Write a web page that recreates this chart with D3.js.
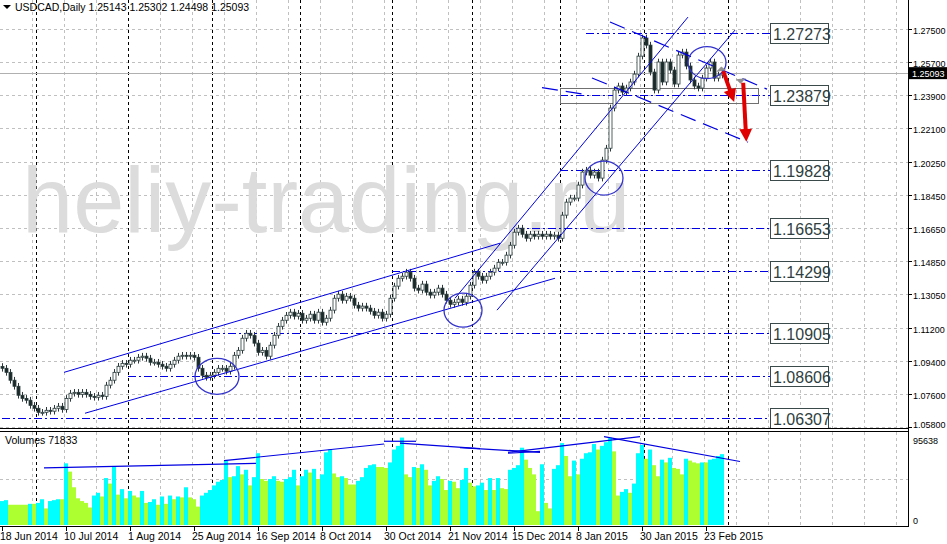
<!DOCTYPE html>
<html><head><meta charset="utf-8">
<script src="https://cdn.jsdelivr.net/npm/d3@7"></script>
<style>body{margin:0;background:#fff}svg{display:block}text{font-family:"Liberation Sans",Arial,sans-serif}</style>
</head><body><svg id="c" width="947" height="544"></svg>
<script>
const closes=[1.0900,1.0878,1.0835,1.0802,1.0753,1.0736,1.0726,1.0698,1.0682,1.0660,1.0660,1.0671,1.0666,1.0682,1.0693,1.0676,1.0736,1.0764,1.0769,1.0758,
1.0769,1.0758,1.0747,1.0742,1.0753,1.0747,1.0808,1.0835,1.0878,1.0911,1.0927,1.0922,1.0944,1.0944,1.0960,1.0966,1.0955,1.0933,1.0933,1.0922,
1.0911,1.0900,1.0922,1.0944,1.0966,1.0971,1.0966,1.0971,1.0960,1.0900,1.0862,1.0851,1.0862,1.0878,1.0900,1.0900,1.0884,1.0911,1.0971,1.0998,
1.1064,1.1091,1.1080,1.1037,1.0987,1.0998,1.0966,1.1026,1.1080,1.1129,1.1162,1.1189,1.1206,1.1184,1.1200,1.1162,1.1173,1.1195,1.1162,1.1206,
1.1151,1.1173,1.1217,1.1282,1.1304,1.1271,1.1293,1.1282,1.1244,1.1228,1.1239,1.1228,1.1211,1.1189,1.1206,1.1173,1.1195,1.1282,1.1348,1.1391,
1.1402,1.1424,1.1391,1.1337,1.1326,1.1359,1.1315,1.1299,1.1315,1.1337,1.1304,1.1271,1.1249,1.1260,1.1277,1.1260,1.1293,1.1353,1.1424,1.1402,
1.1380,1.1402,1.1424,1.1446,1.1478,1.1478,1.1517,1.1571,1.1642,1.1664,1.1631,1.1609,1.1631,1.1620,1.1631,1.1620,1.1631,1.1620,1.1626,1.1609,
1.1735,1.1806,1.1828,1.1828,1.1899,1.1970,1.1980,1.1953,1.1970,1.1937,1.2035,1.2100,1.2319,1.2417,1.2439,1.2406,1.2428,1.2461,1.2504,1.2602,
1.2701,1.2662,1.2515,1.2417,1.2570,1.2461,1.2570,1.2526,1.2450,1.2608,1.2624,1.2548,1.2472,1.2439,1.2428,1.2482,1.2537,1.2570,1.2482,1.2499,1.25093];
const volumes=[26,27,22,22,22,22,22,23,23,24,28,18,26,27,28,28,67,58,41,29,26,24,19,32,35,31,51,45,63,33,
39,29,37,32,30,37,24,25,28,22,31,23,32,28,31,30,41,30,28,20,32,35,38,43,47,49,70,52,53,64,
55,60,43,52,78,50,48,50,53,48,47,50,52,60,43,53,60,57,61,50,55,79,82,56,52,53,51,44,44,48,
52,62,65,66,63,63,62,68,82,86,95,55,52,63,62,66,60,43,48,53,50,38,48,47,40,49,62,46,42,43,
46,38,51,38,51,40,39,60,62,65,84,71,62,55,15,66,24,18,61,65,89,75,53,70,55,72,78,79,88,82,
86,90,95,80,32,36,39,35,45,78,87,72,82,65,53,71,68,73,62,61,55,72,70,68,67,68,68,71,72,75,77].map(v=>v*1000);
const dateLabels=["18 Jun 2014","10 Jul 2014","1 Aug 2014","25 Aug 2014","16 Sep 2014","8 Oct 2014","30 Oct 2014","21 Nov 2014","15 Dec 2014","8 Jan 2015","30 Jan 2015","23 Feb 2015"];
const dateIdx=[0,16,32,48,64,80,96,112,128,144,160,176];
const monthIdx=[8.5,31.5,52.5,74.5,97.5,117.5,139.5,160.5,181.5];
const priceTicks=[1.27500,1.25700,1.23900,1.22100,1.20250,1.18450,1.16650,1.14850,1.13050,1.11200,1.09400,1.07600,1.05800];
const levels=[[1.27273,146],[1.23879,139.5],[1.19828,139.5],[1.16653,128.5],[1.14299,97.5],[1.10905,52.5],[1.08606,31.5],[1.06307,0]];
const trendLines=[[15.5,1.0878,124.5,1.1582],[20.75,1.0655,138.25,1.1391],[113.25,1.1282,171.5,1.2815],[123.75,1.1217,183.25,1.2744]];
const dashLines=[[152,1.2788,191.25,1.2422],[147.5,1.2483,186.5,1.2133],[135,1.2430,146,1.2392]];
const ellipses=[[53.75,1.0856,22,18],[115.25,1.1217,19,17],[150.5,1.1937,19,17],[176.25,1.2567,19,16]];
const volLines=[[10.5,62000,63.5,67000],[55.5,70000,95.5,88000],[95.5,91000,103.5,91000],[99.5,89000,119.5,83000],[114.5,84000,134.5,79000],[126.5,78000,134.5,80000],[126.5,79000,159.5,96000],[150.5,96000,184.5,69000]];

const svg=d3.select("#c");
const x=d3.scaleLinear().domain([-0.5,226.5]).range([0,908]);
const y=d3.scaleLinear().domain([1.058,1.275]).range([427,29]);
const yv=d3.scaleLinear().domain([0,95638]).range([525,437]);
const g=svg.append("g");
for(let k=0;k<29;k++){const px=Math.round(x(7.5+8*k))+.5;if(px>906)break;
 g.append("line").attr("x1",px).attr("x2",px).attr("y1",0).attr("y2",428).attr("stroke","#c0c0c0").attr("stroke-dasharray","3,3");
 g.append("line").attr("x1",px).attr("x2",px).attr("y1",432).attr("y2",526).attr("stroke","#c0c0c0").attr("stroke-dasharray","3,3");}
priceTicks.forEach(t=>g.append("line").attr("x1",0).attr("x2",908).attr("y1",Math.round(y(t))+.5).attr("y2",Math.round(y(t))+.5).attr("stroke","#c0c0c0").attr("stroke-dasharray","3,3"));
g.append("line").attr("x1",0).attr("x2",908).attr("y1",479.5).attr("y2",479.5).attr("stroke","#c0c0c0").attr("stroke-dasharray","3,3");
monthIdx.forEach(m=>{const px=Math.round(x(m))+.5;
 g.append("line").attr("x1",px).attr("x2",px).attr("y1",0).attr("y2",428).attr("stroke","#000").attr("stroke-dasharray","3,3");
 g.append("line").attr("x1",px).attr("x2",px).attr("y1",432).attr("y2",526).attr("stroke","#000").attr("stroke-dasharray","3,3");});
svg.append("text").attr("x",22).attr("y",232).attr("font-size",92).attr("fill","#dcdcdc").text("heliy-trading.ru");
svg.append("line").attr("x1",0).attr("x2",908).attr("y1",Math.round(y(1.25093))+.5).attr("y2",Math.round(y(1.25093))+.5).attr("stroke","#b0b0b0");
levels.forEach(([p,s])=>{const yy=Math.round(y(p))+.5;
 svg.append("line").attr("x1",x(s)).attr("x2",770).attr("y1",yy).attr("y2",yy).attr("stroke","#0000e0").attr("stroke-width",1.2).attr("stroke-dasharray","8,3,2,3");
 svg.append("rect").attr("x",770.5).attr("y",yy-10).attr("width",58).attr("height",20).attr("fill","#fff").attr("stroke","#3a4a4a");
 svg.append("text").attr("x",773).attr("y",yy+6.5).attr("font-size",16).attr("fill","#2f3f3f").text(p.toFixed(5));});
svg.append("rect").attr("x",560.5).attr("y",Math.round(y(1.2431))+.5).attr("width",198).attr("height",15).attr("fill","none").attr("stroke","#707070");
const cg=svg.append("g");
closes.forEach((c,i)=>{const o=i?closes[i-1]:c+0.001;const hi=Math.max(o,c)+0.0018,lo=Math.min(o,c)-0.0018;
 const cx=Math.round(x(i))+.5;
 cg.append("line").attr("x1",cx).attr("x2",cx).attr("y1",y(hi)).attr("y2",y(lo)).attr("stroke","#2a3a3a");
 const top=y(Math.max(o,c)),bot=y(Math.min(o,c));
 cg.append("rect").attr("x",cx-1.5).attr("y",top).attr("width",3).attr("height",Math.max(1,bot-top)).attr("fill",c>=o?"#fff":"#1a2a2a").attr("stroke","#2a3a3a").attr("stroke-width",.8);});
trendLines.forEach(l=>svg.append("line").attr("x1",x(l[0])).attr("y1",y(l[1])).attr("x2",x(l[2])).attr("y2",y(l[3])).attr("stroke","#0000e0"));
dashLines.forEach(l=>svg.append("line").attr("x1",x(l[0])).attr("y1",y(l[1])).attr("x2",x(l[2])).attr("y2",y(l[3])).attr("stroke","#0000e0").attr("stroke-width",1.2).attr("stroke-dasharray","16,8"));
ellipses.forEach(e=>svg.append("ellipse").attr("cx",x(e[0])).attr("cy",y(e[1])).attr("rx",e[2]).attr("ry",e[3]).attr("fill","none").attr("stroke","#3333cc").attr("stroke-width",1.3));
const defs=svg.append("defs");
defs.append("marker").attr("id","ah").attr("viewBox","0 0 10 10").attr("refX",5).attr("refY",5).attr("markerWidth",4).attr("markerHeight",3.2).attr("orient","auto")
 .append("path").attr("d","M0,0L10,5L0,10Z").attr("fill","#e00000");
svg.append("polygon").attr("points",`${x(178.5)},${y(1.2516)} ${x(179.8)},${y(1.2545)} ${x(181)},${y(1.2526)}`).attr("fill","#909090");
svg.append("polygon").attr("points",`${x(183.5)},${y(1.2476)} ${x(184.6)},${y(1.2452)} ${x(186)},${y(1.2482)}`).attr("fill","#909090");
svg.append("line").attr("x1",x(180.3)).attr("y1",y(1.2520)).attr("x2",x(182.5)).attr("y2",y(1.2385)).attr("stroke","#e00000").attr("stroke-width",4).attr("marker-end","url(#ah)");
svg.append("line").attr("x1",x(185.3)).attr("y1",y(1.2457)).attr("x2",x(186)).attr("y2",y(1.2170)).attr("stroke","#e00000").attr("stroke-width",4).attr("marker-end","url(#ah)");
const vg=svg.append("g");
volumes.forEach((v,i)=>{const col=(i===0||v>volumes[i-1])?"#00ffff":"#adff2f";
 vg.append("rect").attr("x",x(i)-2).attr("y",yv(v)).attr("width",4).attr("height",525-yv(v)).attr("fill",col);});
volLines.forEach(l=>svg.append("line").attr("x1",x(l[0])).attr("y1",yv(l[1])).attr("x2",x(l[2])).attr("y2",yv(l[3])).attr("stroke","#0000e0").attr("stroke-width",1.2));
svg.append("line").attr("x1",0).attr("x2",908).attr("y1",428.5).attr("y2",428.5).attr("stroke","#000");
svg.append("line").attr("x1",0).attr("x2",908).attr("y1",431.5).attr("y2",431.5).attr("stroke","#000");
svg.append("line").attr("x1",0).attr("x2",908).attr("y1",526.5).attr("y2",526.5).attr("stroke","#000");
svg.append("line").attr("x1",908.5).attr("x2",908.5).attr("y1",0).attr("y2",527).attr("stroke","#000");
const axText=(tx,ty,s,fill)=>svg.append("text").attr("x",tx).attr("y",ty).attr("font-size",9).attr("fill",fill||"#000").text(s);
priceTicks.forEach(t=>{const yy=Math.round(y(t))+.5;
 svg.append("line").attr("x1",908).attr("x2",912).attr("y1",yy).attr("y2",yy).attr("stroke","#000");
 axText(913,Math.min(yy+4,428),t.toFixed(5));});
svg.append("rect").attr("x",909).attr("y",y(1.25093)-6).attr("width",38).attr("height",12).attr("fill","#000");
axText(912,y(1.25093)+4,"1.25093","#fff");
svg.append("text").attr("x",913).attr("y",444).attr("font-size",9).text("95638");
svg.append("text").attr("x",913).attr("y",524).attr("font-size",9).text("0");
dateIdx.forEach((d,k)=>{const px=Math.round(x(d));
 svg.append("line").attr("x1",px+.5).attr("x2",px+.5).attr("y1",527).attr("y2",531).attr("stroke","#000");
 svg.append("text").attr("x",px-2).attr("y",540).attr("font-size",10.5).text(dateLabels[k]);});
svg.append("path").attr("d","M3,5L11,5L7,9Z").attr("fill","#000");
svg.append("text").attr("x",15).attr("y",11).attr("font-size",10.5).text("USDCAD,Daily  1.25143 1.25302 1.24498 1.25093");
svg.append("text").attr("x",5).attr("y",444).attr("font-size",10.5).text("Volumes 71833");
</script></body></html>
